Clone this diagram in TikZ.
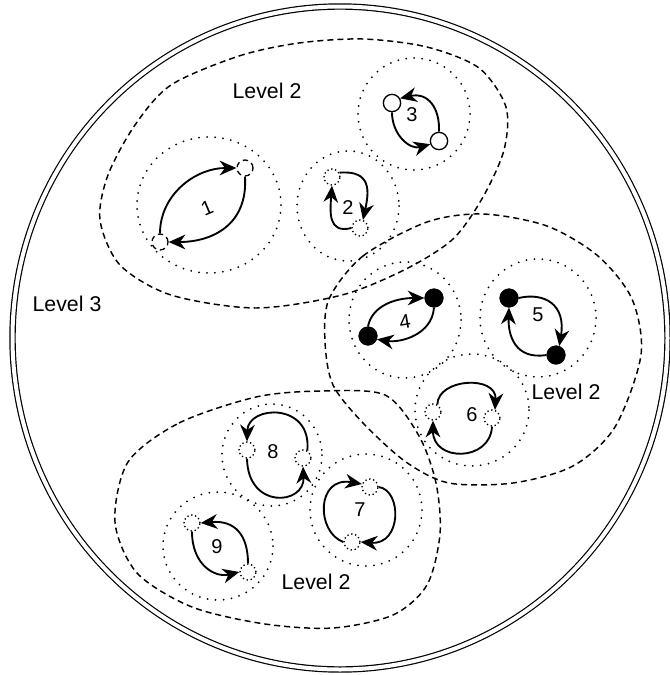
\documentclass[tikz,border=0pt]{standalone}
\usepackage{fontspec}
\setmainfont{Liberation Sans}
\usetikzlibrary{arrows.meta}

\begin{document}
\begin{tikzpicture}[x=0.75pt,y=0.75pt,yscale=-1,xscale=1,
  lvlthree/.style={line width=0.9pt,double,double distance=3pt},
  lvltwo/.style={line width=1.1pt,dash pattern=on 4.5pt off 3pt},
  lvlone/.style={line width=1.5pt,line cap=round,dash pattern=on 0pt off 6pt},
  dashnode/.style={circle,draw,line width=1pt,dash pattern=on 4pt off 3pt,minimum size=12pt,inner sep=0pt},
  dotnode/.style={circle,draw,line width=1pt,dotted,minimum size=12pt,inner sep=0pt},
  whitenode/.style={circle,draw,fill=white,line width=1pt,minimum size=13pt,inner sep=0pt},
  blacknode/.style={circle,draw,fill=black,minimum size=14pt,inner sep=0pt},
  cyc/.style={line width=1.4pt,-{Stealth[length=12.5pt,width=11pt,inset=4pt]}},
  num/.style={font=\fontsize{15}{17}\selectfont,inner sep=0.75pt},
  lvl/.style={font=\fontsize{16}{19}\selectfont,inner sep=0.75pt}]
\useasboundingbox (0,0) rectangle (670,675);

%Shape: Ellipse [outer] 
\draw[lvlthree] (340,338) ellipse (327.5 and 331.5);

%Shape: Blob [top left]
\draw[lvltwo] plot[smooth cycle] coordinates {(171,85) (239,56) (299,43) (363,39) (427,47) (479,68) (506,107) (504,150) (483,197) (453,239) (406,269) (342,295) (256,308) (171,295) (120,265) (100,220) (108,175) (135,125)};
%Shape: Blob [right]
\draw[lvltwo] plot[smooth cycle] coordinates {(329,299) (363,256) (427,222) (483,214) (547,226) (598,256) (632,299) (641,355) (615,427) (573,466) (513,483) (449,483) (406,462) (363,423) (333,385) (325,342)};
%Shape: Blob [bottom left]
\draw[lvltwo] plot[smooth cycle] coordinates {(128,462) (179,423) (256,397) (321,391) (385,395) (419,436) (436,483) (440,534) (427,585) (393,615) (333,628) (265,624) (192,607) (137,573) (115,522)};

%Shape: Ellipse [level 1]
\draw[lvlone] (209,205) ellipse (72 and 68);
\draw[lvlone] (348,206) ellipse (51 and 55);
\draw[lvlone] (414,114) ellipse (56 and 56);
\draw[lvlone] (405,320) ellipse (56 and 58);
\draw[lvlone] (538,318) ellipse (58 and 59);
\draw[lvlone] (472,410) ellipse (57 and 56);
\draw[lvlone] (366,510) ellipse (56 and 56);
\draw[lvlone] (272,455) ellipse (50 and 51);
\draw[lvlone] (218,546) ellipse (55 and 54);

% Cycle 1
\node[dashnode] (a1) at (160,242) {};
\node[dashnode] (b1) at (245,168) {};
\draw[cyc] (a1.north) .. controls (160,195) and (195,168) .. (b1.west);
\draw[cyc] (b1.south) .. controls (248,225) and (212,242) .. (a1.east);
\node[num,rotate=23] (l1) at (207,208) {1};

% Cycle 2
\node[dotnode] (a2) at (332,177) {};
\node[dotnode] (b2) at (360,228) {};
\draw[cyc] (a2.30) .. controls (372,170) and (369,192) .. (b2.70);
\draw[cyc] (b2.west) .. controls (328,234) and (330,212) .. (a2.south);
\node[num] (l2) at (348,208) {2};

% Cycle 3
\node[whitenode] (a3) at (392,103) {};
\node[whitenode] (b3) at (439,141) {};
\draw[cyc] (b3.north) .. controls (440,108) and (428,92) .. (a3.30);
\draw[cyc] (a3.south) .. controls (392,135) and (410,150) .. (b3.200);
\node[num] (l3) at (412,115) {3};

% Cycle 4
\node[blacknode] (a4) at (368,336) {};
\node[blacknode] (b4) at (434,298) {};
\draw[cyc] (a4.north) .. controls (372,306) and (395,298) .. (b4.west);
\draw[cyc] (b4.south) .. controls (432,335) and (400,343) .. (a4.340);
\node[num,rotate=10] (l4) at (405,322) {4};

% Cycle 5
\node[blacknode] (a5) at (509,298) {};
\node[blacknode] (b5) at (556,355) {};
\draw[cyc] (a5.east) .. controls (545,292) and (566,305) .. (b5.70);
\draw[cyc] (b5.west) .. controls (515,360) and (508,335) .. (a5.south);
\node[num] (l5) at (538,315) {5};

% Cycle 6
\node[dotnode] (a6) at (433,412) {};
\node[dotnode] (b6) at (492,418) {};
\draw[cyc] (a6.60) .. controls (438,378) and (497,375) .. (b6.70);
\draw[cyc] (b6.south) .. controls (490,462) and (433,462) .. (a6.south);
\node[num] (l6) at (472,415) {6};

% Cycle 7
\node[dotnode] (a7) at (370,487) {};
\node[dotnode] (b7) at (352,542) {};
\draw[cyc] (b7.west) .. controls (316,532) and (316,476) .. (a7.160);
\draw[cyc] (a7.east) .. controls (402,490) and (402,545) .. (b7.east);
\node[num] (l7) at (360,510) {7};

% Cycle 8
\node[dotnode] (a8) at (247,450) {};
\node[dotnode] (b8) at (303,458) {};
\draw[cyc] (b8.60) .. controls (312,402) and (248,405) .. (a8.north);
\draw[cyc] (a8.south) .. controls (248,510) and (305,505) .. (b8.south);
\node[num] (l8) at (273,452) {8};

% Cycle 9
\node[dotnode] (a9) at (192,523) {};
\node[dotnode] (b9) at (248,572) {};
\draw[cyc] (b9.north) .. controls (248,535) and (235,520) .. (a9.east);
\draw[cyc] (a9.south) .. controls (192,565) and (215,578) .. (b9.west);
\node[num] (l9) at (217,547) {9};

% Text Node
\node[lvl] (t1) at (267,91) {Level 2};
% Text Node
\node[lvl] (t2) at (67,304) {Level 3};
% Text Node
\node[lvl] (t3) at (566,392) {Level 2};
% Text Node
\node[lvl] (t4) at (316,582) {Level 2};

\end{tikzpicture}
\end{document}
